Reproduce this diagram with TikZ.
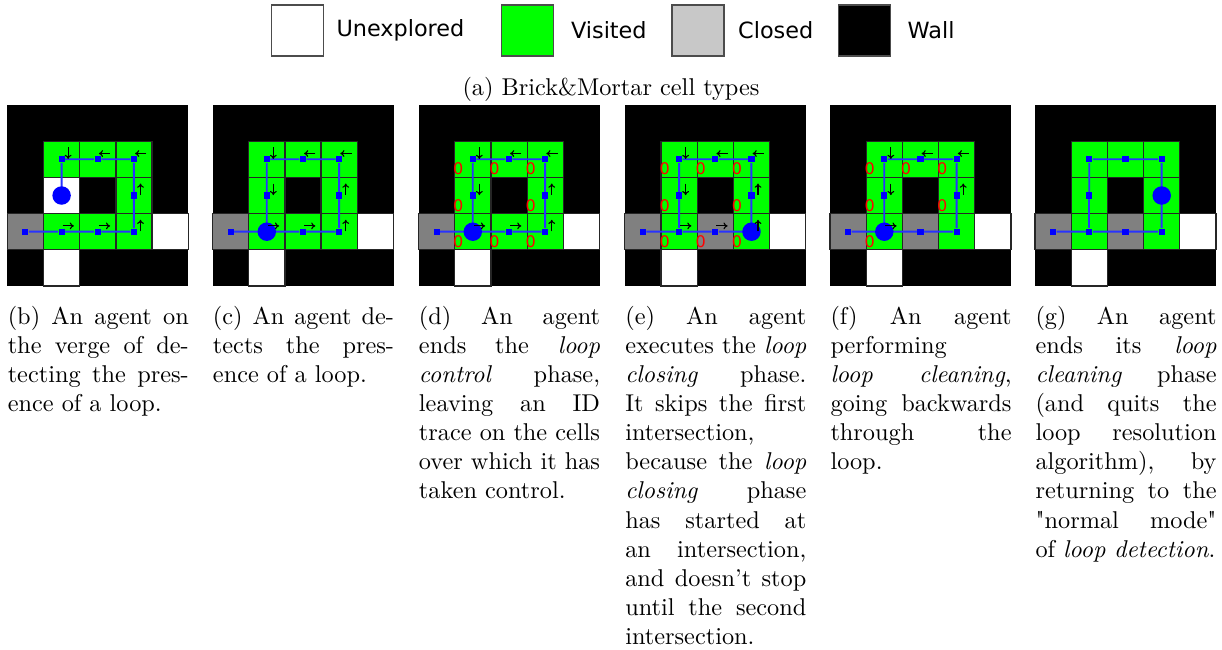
\documentclass[tikz,border=0pt]{standalone}
\usepackage{fontspec}
\newfontfamily\legendfont{DejaVu Sans}
\usetikzlibrary{arrows.meta,positioning}

\definecolor{visited}{RGB}{0,255,0}
\definecolor{closedcell}{RGB}{128,128,128}
\definecolor{closedkey}{RGB}{200,200,200}
\definecolor{agentblue}{RGB}{0,0,255}
\definecolor{trailblue}{RGB}{40,50,255}

% grid shared by all panels: #1 = colour of cell (1,2), #2 = colour of cell (2,3)
\newcommand\maze[2]{%
  \fill[black] (0,0) rectangle (5,5);
  \foreach \c/\r/\col in {0/3/closedcell,4/3/white,1/4/white,1/1/visited,2/1/visited,3/1/visited,3/2/visited,1/3/visited,3/3/visited,1/2/#1,2/3/#2}
    \draw[cellbox,fill=\col] (\c,\r) rectangle ++(1,1);
}
% blue marks along the path, #1 = panel prefix
\newcommand\trail[1]{%
  \foreach \c/\r in {0/3,1/3,2/3,3/3,3/2,3/1,2/1,1/1,1/2}
    \node[trailmark] (#1\c\r) at (\c+.5,\r+.5) {};
  \draw[trailline] (#103) -- (#113) -- (#123) -- (#133) -- (#132) -- (#131) -- (#121) -- (#111) -- (#112);
}
\newcommand\goright[1]{\foreach \c/\r in {#1} \draw[heading] (\c+.53,\r+.34) -- (\c+.84,\r+.34);}
\newcommand\goleft[1]{\foreach \c/\r in {#1} \draw[heading] (\c+.84,\r+.34) -- (\c+.53,\r+.34);}
\newcommand\godown[1]{\foreach \c/\r in {#1} \draw[heading] (\c+.68,\r+.17) -- (\c+.68,\r+.49);}
\newcommand\goup[1]{\foreach \c/\r in {#1} \draw[heading] (\c+.68,\r+.49) -- (\c+.68,\r+.17);}

\begin{document}
\begin{tikzpicture}[x=0.4115pt, y=-0.4115pt,
  cellbox/.style={draw=black!85, line width=.5pt},
  swatch/.style={draw=black!70, line width=.5pt, minimum width=21.4pt, minimum height=21pt, inner sep=0},
  keytext/.style={font=\legendfont\fontsize{9.2}{11}\selectfont, inner sep=0},
  trailmark/.style={fill=agentblue, inner sep=0, minimum size=2.5pt},
  agentdot/.style={circle, fill=agentblue, inner sep=0, minimum size=7.6pt},
  trailline/.style={draw=trailblue, line width=.8pt},
  heading/.style={-{To[length=1.7pt,width=2.8pt]}, line width=.45pt},
  idtrace/.style={text=red, font=\legendfont\fontsize{6.6}{7}\selectfont, inner sep=0},
  capt/.style={anchor=base west, text width=74.5pt, align=justify, inner sep=0, font=\fontsize{10}{12}\selectfont}
]
\useasboundingbox (0,0) rectangle (1222,649);

% legend
\node[swatch, fill=white] (unexp) at (297.5,30.5) {};
\node[keytext, right=4.9pt of unexp] (unexplab) {Unexplored};
\node[swatch, fill=visited] (visit) at (527.2,30.5) {};
\node[keytext, right=6.9pt of visit] (visitlab) {Visited};
\node[swatch, fill=closedkey] (closd) at (698,30.5) {};
\node[keytext, right=5.4pt of closd] (closdlab) {Closed};
\node[swatch, fill=black] (wall) at (864.5,30.5) {};
\node[keytext, right=6.6pt of wall] (walllab) {Wall};
\node[anchor=base, inner sep=0] (capa) at (611,95) {(a) Brick\&Mortar cell types};

% (b)
\begin{scope}[shift={(7.3,105)}, scale=36.2]
  \maze{white}{visited}
  \trail{b}
  \node[agentdot] (bagent) at (1.5,2.5) {};
  \godown{1/1} \goleft{2/1,3/1} \goup{3/2,3/3} \goright{1/3,2/3}
\end{scope}

% (c)
\begin{scope}[shift={(212.5,105)}, scale=36.2]
  \maze{visited}{visited}
  \trail{c}
  \draw[trailline] (c12) -- (c13);
  \node[agentdot] (cagent) at (1.5,3.5) {};
  \godown{1/1,1/2} \goleft{2/1,3/1} \goup{3/2,3/3} \goright{1/3,2/3}
\end{scope}

% (d)
\begin{scope}[shift={(418.5,105)}, scale=36.2]
  \maze{visited}{visited}
  \foreach \c/\r in {1/1,2/1,3/1,1/2,3/2,1/3,2/3,3/3}
    \node[idtrace] (dz\c\r) at (\c+.1,\r+.77) {0};
  \trail{d}
  \draw[trailline] (d12) -- (d13);
  \node[agentdot] (dagent) at (1.5,3.5) {};
  \godown{1/1,1/2} \goleft{2/1,3/1} \goup{3/2,3/3} \goright{1/3,2/3}
\end{scope}

% (e)
\begin{scope}[shift={(624.8,105)}, scale=36.2]
  \maze{visited}{closedcell}
  \foreach \c/\r in {1/1,2/1,3/1,1/2,3/2,1/3,2/3,3/3}
    \node[idtrace] (ez\c\r) at (\c+.1,\r+.77) {0};
  \trail{e}
  \draw[trailline] (e12) -- (e13);
  \node[agentdot] (eagent) at (3.5,3.5) {};
  \godown{1/1,1/2} \goleft{2/1,3/1} \goup{3/2,3/3} \goright{1/3,2/3}
\end{scope}

% (f)
\begin{scope}[shift={(830,105)}, scale=36.2]
  \maze{visited}{closedcell}
  \foreach \c/\r in {1/1,2/1,3/1,1/2,3/2,1/3}
    \node[idtrace] (fz\c\r) at (\c+.1,\r+.77) {0};
  \trail{f}
  \draw[trailline] (f12) -- (f13);
  \node[agentdot] (fagent) at (1.5,3.5) {};
  \godown{1/1,1/2} \goleft{2/1,3/1} \goup{3/2} \goright{1/3}
\end{scope}

% (g)
\begin{scope}[shift={(1035,105)}, scale=36.2]
  \maze{visited}{closedcell}
  \trail{g}
  \draw[trailline] (g12) -- (g13);
  \node[agentdot] (gagent) at (3.5,2.5) {};
\end{scope}

% captions
\node[capt] (capb) at (7.3,324) {(b) An agent on the verge of detecting the presence of a loop.};
\node[capt] (capc) at (212.5,324) {(c) An agent detects the presence of a loop.};
\node[capt] (capd) at (418.5,324) {(d) An agent ends the \emph{loop control} phase, leaving an ID trace on the cells over which it has taken control.};
\node[capt] (cape) at (624.8,324) {(e) An agent executes the \emph{loop closing} phase.\linebreak It skips the first intersection, because the \emph{loop closing} phase has started at an intersection, and doesn't stop until the second intersection.};
\node[capt] (capf) at (830,324) {(f) An agent performing\linebreak \emph{loop cleaning},\linebreak going backwards through the loop.};
\node[capt] (capg) at (1035,324) {(g) An agent ends its \emph{loop cleaning} phase (and quits the loop resolution algorithm), by returning to the \textquotedbl normal mode\textquotedbl{} of \emph{loop detection}.};
\end{tikzpicture}
\end{document}
